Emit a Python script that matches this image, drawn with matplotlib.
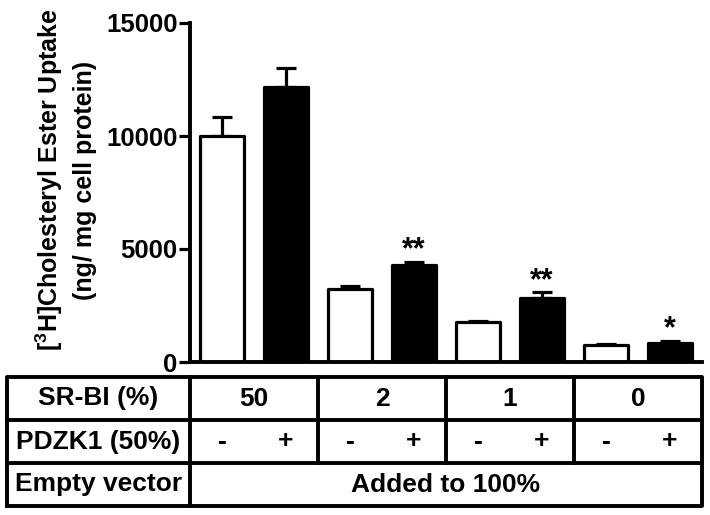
import matplotlib

matplotlib.use("Agg")
import matplotlib.pyplot as plt  # noqa: E402
import numpy as np

plt.rcParams["font.family"] = ["Liberation Sans", "DejaVu Sans"]
plt.rcParams["font.weight"] = "bold"
plt.rcParams["mathtext.fontset"] = "custom"
plt.rcParams["mathtext.bf"] = "Liberation Sans:bold"
plt.rcParams["mathtext.rm"] = "Liberation Sans:bold"
plt.rcParams["mathtext.default"] = "bf"

# values (ng / mg cell protein)
uptake = [10000, 12150, 3250, 4300, 1750, 2850, 750, 850]
sem = [850, 850, 120, 130, 70, 230, 40, 80]
pdzk1 = ["-", "+", "-", "+", "-", "+", "-", "+"]
srbi_pct = ["50", "2", "1", "0"]
stars = ["", "", "", "**", "", "**", "", "*"]
yticks = [0, 5000, 10000, 15000]
row_labels = ["SR-BI (%)", "PDZK1 (50%)", "Empty vector"]
empty_text = "Added to 100%"

LW = 2.3
W, H = 710, 515
fig = plt.figure(figsize=(W / 100, H / 100), dpi=100)

# --- bar chart --------------------------------------------------------------
ax = fig.add_axes([190 / W, (H - 362) / H, 512 / W, 339 / H])
x = np.arange(len(uptake))
colors = ["white" if s == "-" else "black" for s in pdzk1]
ax.errorbar(x, uptake, yerr=[np.zeros(len(sem)), sem], fmt="none",
            ecolor="black", elinewidth=LW, capsize=7, capthick=LW, zorder=1)
ax.bar(x, uptake, width=0.7, color=colors, edgecolor="black",
       linewidth=LW, joinstyle="round", zorder=2)

for xi, v, e, s in zip(x, uptake, sem, stars):
    if s:
        ax.text(xi, v + e + 150, s, ha="center", va="baseline",
                fontsize=22, fontweight="bold")

ax.set_xlim(-0.5, len(uptake) - 0.5)
ax.set_ylim(0, 15000)
ax.set_yticks(yticks)
ax.set_yticklabels([str(t) for t in yticks], fontsize=18.5, fontweight="bold")
ax.set_xticks([])
ax.tick_params(axis="y", direction="out", length=8, width=LW, pad=1)
for side in ("top", "right"):
    ax.spines[side].set_visible(False)
for side in ("left", "bottom"):
    ax.spines[side].set_linewidth(LW + 0.5)

fig.text(49 / W, (H - 180) / H, r"[$^{3}$H]Cholesteryl Ester Uptake",
         rotation=90, ha="center", va="center", fontsize=18, fontweight="bold")
fig.text(85 / W, (H - 180) / H, "(ng/ mg cell protein)",
         rotation=90, ha="center", va="center", fontsize=18, fontweight="bold")

# --- condition table --------------------------------------------------------
left_px = 7
x_left = -0.5 - (190 - left_px) / 64.0
x_right = len(uptake) - 0.5
tax = fig.add_axes([left_px / W, (H - 506) / H, (702 - left_px) / W, 129 / H])
tax.set_xlim(x_left, x_right)
tax.set_ylim(0, 3)
tax.axis("off")

kw = dict(color="black", lw=LW + 0.5, clip_on=False, solid_capstyle="projecting")
tax.plot([x_left, x_right, x_right, x_left, x_left], [0, 0, 3, 3, 0], **kw)
tax.plot([x_left, x_right], [1, 1], **kw)
tax.plot([x_left, x_right], [2, 2], **kw)
tax.plot([-0.5, -0.5], [0, 3], **kw)
for b in np.arange(1.5, len(uptake) - 1, 2):
    tax.plot([b, b], [1, 3], **kw)

fs = 19
label_x = (x_left - 0.5) / 2
for i, lab in enumerate(row_labels):
    tax.text(label_x, 2.5 - i, lab, ha="center", va="center",
             fontsize=fs, fontweight="bold")
for g, pct in enumerate(srbi_pct):
    tax.text(2 * g + 0.5, 2.5, pct, ha="center", va="center",
             fontsize=fs, fontweight="bold")
for xi, s in zip(x, pdzk1):
    tax.text(xi, 1.5, s, ha="center", va="center", fontsize=fs, fontweight="bold")
tax.text((len(uptake) - 1) / 2, 0.5, empty_text, ha="center", va="center",
         fontsize=fs, fontweight="bold")

fig.savefig("out.png", dpi=100)
plt.close(fig)
